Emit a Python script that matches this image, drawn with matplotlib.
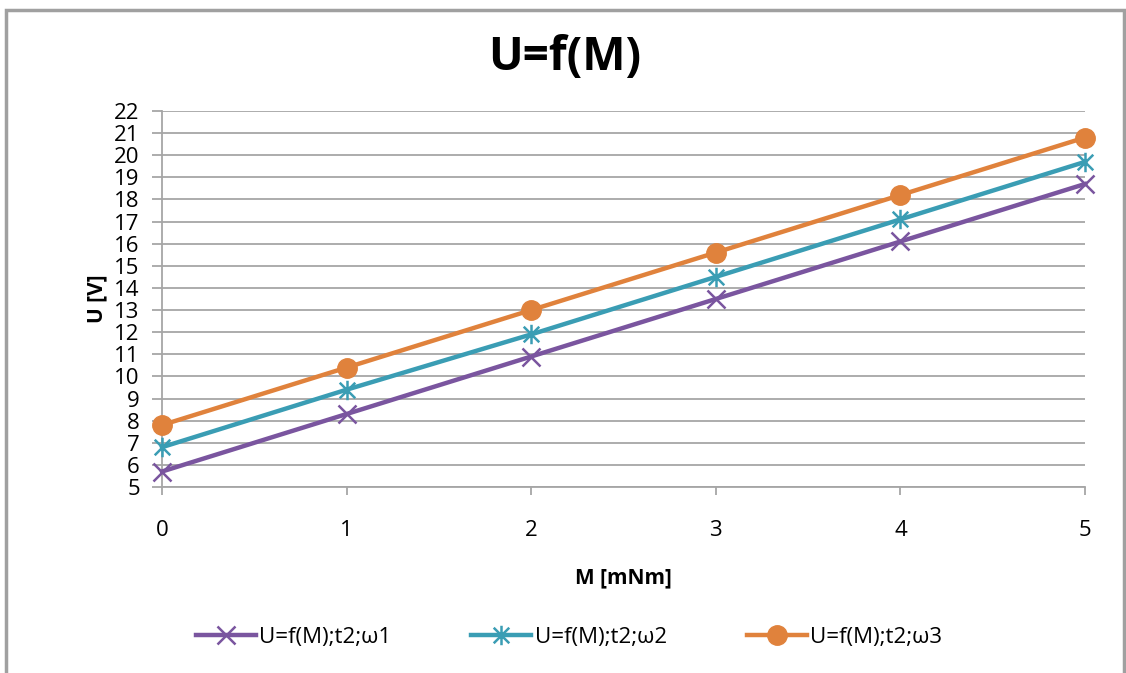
import matplotlib
matplotlib.use("Agg")
import matplotlib.pyplot as plt
from matplotlib.path import Path
from matplotlib.patches import Rectangle

M = [0, 1, 2, 3, 4, 5]
u_w1 = [5.7, 8.3, 10.9, 13.5, 16.1, 18.7]
u_w2 = [6.8, 9.4, 11.9, 14.5, 17.1, 19.7]
u_w3 = [7.8, 10.4, 13.0, 15.6, 18.2, 20.8]
labels = ["U=f(M);t2;ω1", "U=f(M);t2;ω2", "U=f(M);t2;ω3"]
colors = ["#7A559F", "#3A9DB4", "#E0823C"]
yticks = list(range(5, 23))
xticks = M

plt.rcParams['font.family'] = ['Open Sans', 'DejaVu Sans']

W, H = 1126, 673
fig = plt.figure(figsize=(W / 100, H / 100), dpi=100)
ax = fig.add_axes([162 / W, 1 - 487 / H, (1085 - 162) / W, (487 - 111) / H])

# asterisk marker: vertical line + X
star = Path([(0, -1), (0, 1), (-0.8, -0.8), (0.8, 0.8), (-0.8, 0.8), (0.8, -0.8)],
            [Path.MOVETO, Path.LINETO, Path.MOVETO, Path.LINETO, Path.MOVETO, Path.LINETO])

ax.plot(M, u_w1, color=colors[0], lw=3.2, marker='x', ms=13, mew=1.8, label=labels[0], clip_on=False, zorder=3)
ax.plot(M, u_w2, color=colors[1], lw=3.2, marker=star, ms=14, mew=1.8, label=labels[1], clip_on=False, zorder=4)
ax.plot(M, u_w3, color=colors[2], lw=3.2, marker='o', ms=14, label=labels[2], clip_on=False, zorder=5)

ax.set_xlim(0, 5)
ax.set_ylim(5, 22)
ax.set_yticks(yticks)
ax.set_xticks(xticks)
ax.grid(axis='y', color='#A6A6A6', lw=1.3)
ax.set_axisbelow(True)
for s in ['top', 'right']:
    ax.spines[s].set_visible(False)
for s in ['left', 'bottom']:
    ax.spines[s].set_color('#A6A6A6')
    ax.spines[s].set_linewidth(1.3)
ax.tick_params(axis='y', length=7, width=1.3, color='#A6A6A6', pad=9, labelsize=16)
ax.tick_params(axis='x', length=6, width=1.3, color='#A6A6A6', pad=18, labelsize=16)

ax.set_xlabel("M [mNm]", fontsize=15, fontweight='bold', labelpad=19)
ax.set_ylabel("U [V]", fontsize=15, fontweight='bold')
ax.yaxis.set_label_coords((107 - 162) / 923, 0.5)
fig.text(565 / W, 1 - 57 / H, "U=f(M)", ha='center', va='center', fontsize=33, fontweight='bold')

fig.legend(loc='center', bbox_to_anchor=(569 / W, 1 - 637 / H), ncol=3, frameon=False,
           fontsize=16, handlelength=2.7, handletextpad=0.15, columnspacing=3.6)

fig.patches.append(Rectangle((6 / W, -0.1), (1124 - 6) / W, 1.1 - 10 / H,
                             transform=fig.transFigure, fill=False, ec='#A0A0A0', lw=2.5))

fig.savefig("out.png", dpi=100)
